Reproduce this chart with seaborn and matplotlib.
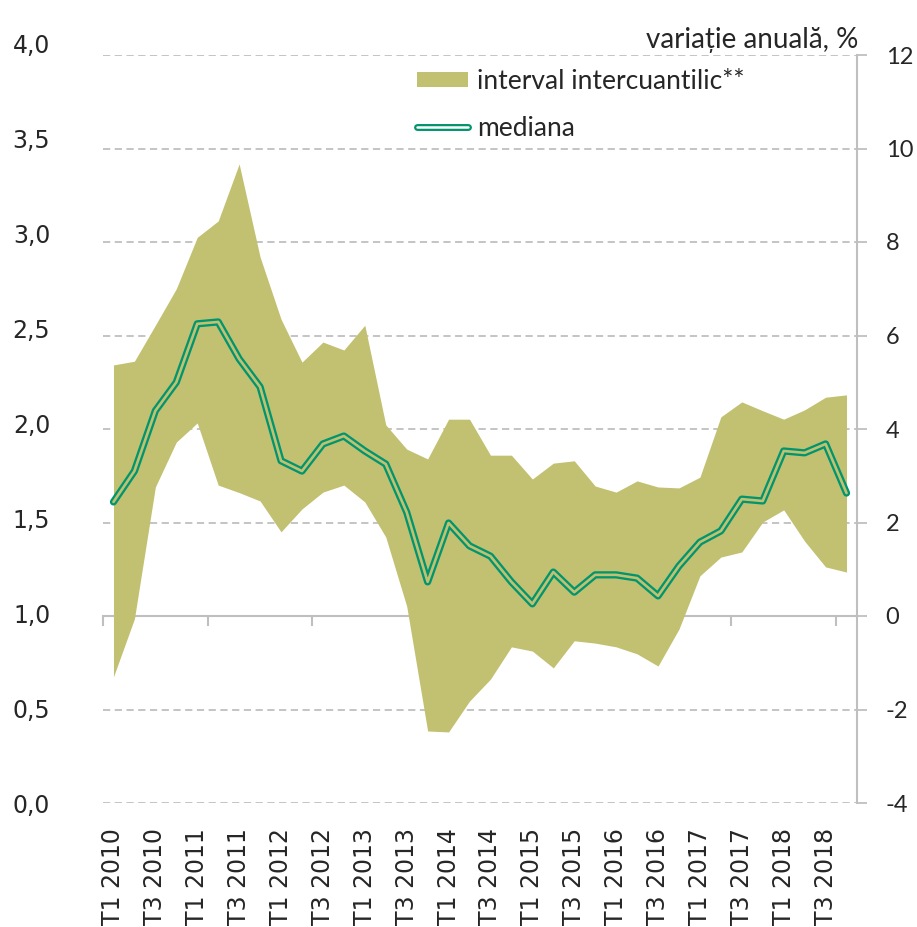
import numpy as np
import pandas as pd
import matplotlib
matplotlib.use("Agg")
import matplotlib.pyplot as plt
from matplotlib.lines import Line2D
from matplotlib.patches import Patch
from matplotlib.legend_handler import HandlerTuple
import seaborn as sns

# ---- data ----
years = list(range(2010, 2019))
quarters = [f"T{q} {y}" for y in years for q in (1, 2, 3, 4)]
upper = [5.37, 5.45, 6.22, 7.0, 8.1, 8.45, 9.67, 7.68, 6.35, 5.43, 5.86, 5.69,
         6.22, 4.09, 3.57, 3.36, 4.21, 4.21, 3.44, 3.44, 2.93, 3.27, 3.32, 2.78,
         2.65, 2.89, 2.76, 2.74, 2.97, 4.26, 4.58, 4.39, 4.21, 4.41, 4.68, 4.73]
lower = [-1.3, -0.06, 2.76, 3.72, 4.13, 2.8, 2.64, 2.46, 1.8, 2.29, 2.65, 2.8,
         2.44, 1.69, 0.21, -2.46, -2.48, -1.82, -1.35, -0.66, -0.75, -1.11, -0.53, -0.58,
         -0.66, -0.81, -1.07, -0.28, 0.86, 1.26, 1.37, 2.01, 2.27, 1.6, 1.05, 0.94]
median = [2.44, 3.1, 4.39, 5.0, 6.25, 6.29, 5.5, 4.9, 3.32, 3.1, 3.68, 3.85,
          3.53, 3.25, 2.22, 0.73, 1.99, 1.5, 1.28, 0.73, 0.26, 0.94, 0.51, 0.88,
          0.88, 0.81, 0.43, 1.07, 1.58, 1.82, 2.5, 2.46, 3.53, 3.49, 3.68, 2.63]
left_ticks = [0.0, 0.5, 1.0, 1.5, 2.0, 2.5, 3.0, 3.5, 4.0]
right_ticks = [-4, -2, 0, 2, 4, 6, 8, 10, 12]
legend_labels = ["interval intercuantilic**", "mediana"]
unit_label = "variație anuală, %"

df = pd.DataFrame({"q": quarters, "pos": np.arange(len(quarters)),
                   "upper": upper, "lower": lower, "median": median})

FILL = "#C2C171"
GREEN = "#00956E"
GRID = "#BFBFBF"

sns.set_style("white")
plt.rcParams["font.family"] = ["DejaVu Sans"]
LAT = ["Lato", "DejaVu Sans"]

W, H = 917, 927
fig = plt.figure(figsize=(W / 100, H / 100), dpi=100)

# left-hand scale labels (separate, slightly taller frame as in the reference)
axL = fig.add_axes([103 / W, 1 - 803 / H, (857 - 103) / W, (803 - 43.5) / H])
axL.set_ylim(0, 4)
axL.set_yticks(left_ticks)
axL.set_yticklabels([f"{v:.1f}".replace(".", ",") for v in left_ticks], fontsize=17)
axL.tick_params(axis="y", length=0, pad=38)
axL.set_xticks([])
axL.patch.set_visible(False)
for s in axL.spines.values():
    s.set_visible(False)

# main axes (data on the "variație anuală" scale)
ax = fig.add_axes([103 / W, 1 - 803 / H, (857 - 103) / W, (803 - 55) / H])
ax.patch.set_visible(False)
ax.fill_between(df["pos"], df["lower"], df["upper"], color=FILL, linewidth=0, zorder=1)
sns.lineplot(data=df, x="pos", y="median", ax=ax, color=GREEN, linewidth=5.2,
             zorder=3, legend=False)
sns.lineplot(data=df, x="pos", y="median", ax=ax, color=FILL, linewidth=1.9,
             zorder=4, legend=False)
ax.set_ylim(-4, 12)
ax.set_xlim(-0.5, len(quarters) - 0.5)
ax.set_xlabel("")
ax.set_ylabel("")

ax.yaxis.tick_right()
ax.set_yticks(right_ticks)
ax.set_yticklabels([str(v) for v in right_ticks], fontsize=17, family=LAT)
ax.tick_params(axis="y", which="both", left=False, right=True, length=7.2,
               width=1.3, color=GRID, pad=13.5, direction="out")
ax.yaxis.grid(True, color=GRID, linestyle=(0, (4, 2.5)), linewidth=1.3)
ax.set_axisbelow(True)
for k in ("top", "left", "bottom"):
    ax.spines[k].set_visible(False)
ax.spines["right"].set_color(GRID)
ax.spines["right"].set_linewidth(1.5)

# x tick labels (every 2nd quarter)
ax.set_xticks(df["pos"][::2])
ax.set_xticklabels(df["q"][::2], rotation=90, fontsize=17)
ax.tick_params(axis="x", length=0, pad=18)

# category axis crossing at 0
sec = ax.secondary_xaxis(0.25)
sec.set_xticks(np.arange(-0.5, len(quarters), 5))
sec.set_xticklabels([])
sec.tick_params(axis="x", length=7.5, width=1.5, color=GRID, direction="out")
sec.spines["bottom"].set_color(GRID)
sec.spines["bottom"].set_linewidth(1.5)

# legend
h_fill = Patch(facecolor=FILL, edgecolor="none")
h_med = (Line2D([], [], color=GREEN, linewidth=5, solid_capstyle="round"),
         Line2D([], [], color="white", linewidth=1.8, solid_capstyle="round"))
fig.legend([h_fill, h_med], legend_labels, loc="upper left",
           bbox_to_anchor=(417 / W, 1 - 69 / H), frameon=False,
           borderpad=0, borderaxespad=0,
           prop={"family": LAT, "size": 19}, handlelength=1.93, handleheight=0.53,
           handletextpad=0.34, labelspacing=0.82,
           handler_map={tuple: HandlerTuple(ndivide=1)})

fig.text(858 / W, 1 - 48 / H, unit_label, ha="right", va="baseline",
         family=LAT, fontsize=20)

fig.savefig("out.png", dpi=100)
